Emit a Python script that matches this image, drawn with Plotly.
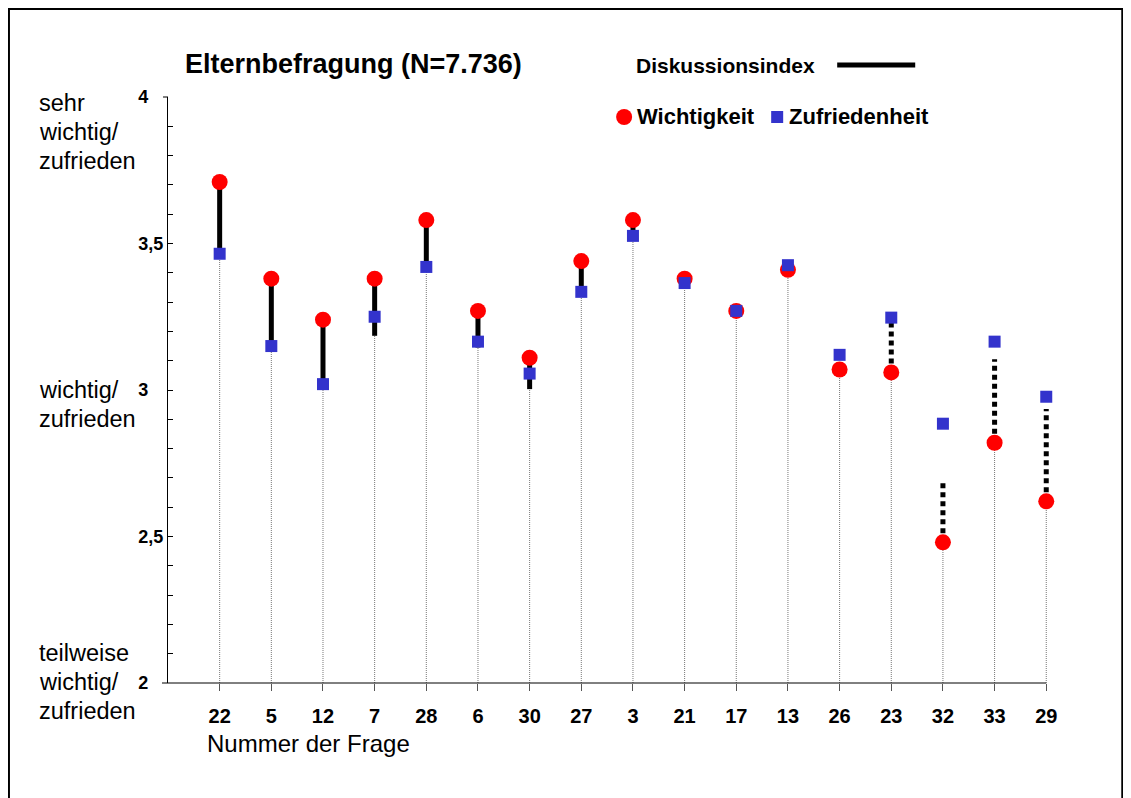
import plotly.graph_objects as go

# ---------------- data ----------------
questions = ["22", "5", "12", "7", "28", "6", "30", "27", "3", "21", "17", "13", "26", "23", "32", "33", "29"]
wichtigkeit = [3.71, 3.38, 3.24, 3.38, 3.58, 3.27, 3.11, 3.44, 3.58, 3.38, 3.27, 3.41, 3.07, 3.06, 2.48, 2.82, 2.62]
zufriedenheit = [3.465, 3.15, 3.02, 3.25, 3.42, 3.165, 3.056, 3.335, 3.526, 3.365, 3.27, 3.426, 3.12, 3.247, 2.885, 3.165, 2.977]
diskussionsindex = [0.245, 0.23, 0.22, 0.195, 0.16, 0.125, 0.107, 0.105, 0.054, 0.013, 0.0, -0.01, -0.03, -0.17, -0.21, -0.285, -0.315]
y_tickvals = [2, 2.5, 3, 3.5, 4]
y_ticktext = ["2\u2007\u00a0", "2,5", "3\u2007\u00a0", "3,5", "4\u2007\u00a0"]

FONT = "Liberation Sans, Arial, sans-serif"
OFF = 8  # page body margin
W, H = 1131 - OFF, 798 - OFF
EXTRA = 0.15  # category units of room right of the last question
UNIT = (1046 - 168) / (len(questions))  # px per category step
# plot area in page pixels
X0, Y0, Y1 = 168, 97, 683
X1 = 1046 + EXTRA * UNIT
PW, PH = X1 - X0, Y1 - Y0
ML, MT = X0 - OFF, Y0 - OFF
MR, MB = W - ML - PW, H - MT - PH
XR = [-1, len(questions) - 1 + EXTRA]


def px(x):
    return (x - X0) / PW


def py(y):
    return (Y1 - y) / PH


fig = go.Figure()

# drop lines from the axis to the lowest mark of each question
dx, dy = [], []
for q, w, z, d in zip(questions, wichtigkeit, zufriedenheit, diskussionsindex):
    low = min(w, z, w - d)
    dx += [q, q, None]
    dy += [2, low, None]
fig.add_trace(go.Scatter(x=dx, y=dy, mode="lines", hoverinfo="skip", showlegend=False,
                         line=dict(color="#777777", width=1, dash="1px,1px")))

# Diskussionsindex segments
sx, sy, ox, oy = [], [], [], []
for q, w, d in zip(questions, wichtigkeit, diskussionsindex):
    if d > 0:
        sx += [q, q, None]
        sy += [w, w - d, None]
    elif d < 0:
        ox += [q, q, None]
        oy += [w, w - d, None]
fig.add_trace(go.Scatter(x=sx, y=sy, mode="lines", showlegend=False,
                         line=dict(color="black", width=5)))
fig.add_trace(go.Scatter(x=ox, y=oy, mode="lines", showlegend=False,
                         line=dict(color="black", width=5, dash="5px,4px")))

fig.add_trace(go.Scatter(x=questions, y=wichtigkeit, mode="markers", name="Wichtigkeit",
                         showlegend=False, cliponaxis=False,
                         marker=dict(symbol="circle", size=16, color="#FF0000", line=dict(width=0))))
fig.add_trace(go.Scatter(x=questions, y=zufriedenheit, mode="markers", name="Zufriedenheit",
                         showlegend=False, cliponaxis=False,
                         marker=dict(symbol="square", size=12, color="#3333CC", line=dict(width=0))))

annotations = []


def text(x, y, s, size, bold=False, anchor="left"):
    annotations.append(dict(x=px(x), y=py(y), xref="paper", yref="paper", text=s, showarrow=False,
                            xanchor=anchor, yanchor="middle",
                            font=dict(family=FONT, size=size, color="black",
                                      weight="bold" if bold else "normal")))


text(183, 64, "Elternbefragung (N=7.736)", 27, bold=True)
text(634, 65, "Diskussionsindex", 21, bold=True)
text(635, 117, "Wichtigkeit", 22, bold=True)
text(787, 117, "Zufriedenheit", 22, bold=True)
text(205, 744, "Nummer der Frage", 24)
for yy, s in [(103, "sehr"), (132, "wichtig/"), (161, "zufrieden"),
              (390, "wichtig/"), (419, "zufrieden"),
              (653, "teilweise"), (682, "wichtig/"), (711, "zufrieden")]:
    text(37, yy, s, 23.5)

x_line_end = (len(questions) - 1 - XR[0]) / (XR[1] - XR[0])
shapes = [
    # frame
    dict(type="rect", xref="paper", yref="paper", x0=px(9), x1=px(1122), y0=py(9), y1=py(810),
         line=dict(color="black", width=2)),
    # legend line
    dict(type="line", xref="paper", yref="paper", x0=px(837), x1=px(915), y0=py(65), y1=py(65),
         line=dict(color="black", width=5)),
    # legend circle
    dict(type="circle", xref="paper", yref="paper", x0=px(616), x1=px(632), y0=py(109), y1=py(125),
         fillcolor="#FF0000", line=dict(width=0)),
    # legend square
    dict(type="rect", xref="paper", yref="paper", x0=px(771), x1=px(783), y0=py(111), y1=py(123),
         fillcolor="#3333CC", line=dict(width=0)),
    # x axis line (ends at the last question, starts a little left of the y axis)
    dict(type="line", xref="paper", yref="paper", x0=px(162), x1=x_line_end, y0=0, y1=0,
         line=dict(color="black", width=1)),
    # stub left of the y axis at the top
    dict(type="line", xref="paper", yref="paper", x0=px(163), x1=0, y0=1, y1=1,
         line=dict(color="black", width=1)),
]

fig.update_layout(
    width=W, height=H, margin=dict(l=ML, r=MR, t=MT, b=MB, pad=0),
    paper_bgcolor="white", plot_bgcolor="white",
    font=dict(family=FONT, color="black"),
    showlegend=False,
    annotations=annotations, shapes=shapes,
    xaxis=dict(type="category", categoryorder="array", categoryarray=questions,
               range=XR, showgrid=False, zeroline=False,
               showline=False,
               ticks="outside", ticklen=7, tickcolor="#555555", tickwidth=1,
               tickfont=dict(family=FONT, size=20, weight="bold", color="black"),
               ticklabelstandoff=8),
    yaxis=dict(range=[2, 4], showgrid=False, zeroline=False,
               showline=True, linecolor="black", linewidth=1,
               tickmode="array", tickvals=y_tickvals, ticktext=y_ticktext,
               ticks="inside", ticklen=5, tickcolor="black",
               tickfont=dict(family=FONT, size=18, weight="bold", color="black"),
               ticklabelstandoff=0,
               minor=dict(tickmode="linear", tick0=2, dtick=0.1, ticks="inside",
                          ticklen=5, tickcolor="black", showgrid=False)),
)

fig.write_html("out.html")
